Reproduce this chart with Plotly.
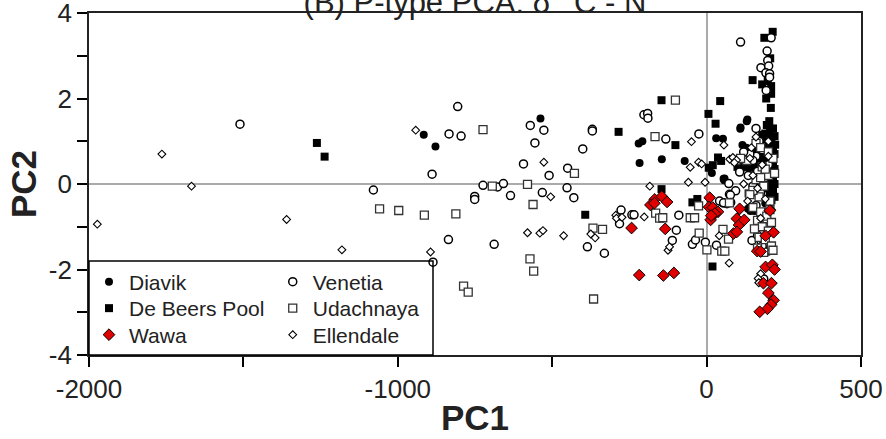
import plotly.graph_objects as go

# ---------------- data ----------------
diavik_x = [-916, -878, -538, -220, -208, -217, -145, -71, 31, 53, 130, 109, 129, 116, 17, 55, 58, 72,
            134, 155, 142, 132, 110, 57, 180, 195, 200, 170, 210, 190, 160, 175]
diavik_y = [1.15, 0.88, 1.53, 0.95, 1.00, 0.49, 0.58, 0.54, 1.07, 1.06, 1.47, 1.29, 0.85, 0.91, 0.26, 0.12, 0.13, 0.02,
            -0.58, -0.63, -0.63, 1.51, 1.32, 0.09, 0.60, 0.30, -0.10, 0.75, 0.95, -0.45, -0.20, 0.05]

debeers_x = [-1262, -1237, -285, -393, -146, -101, -146, -30, -46, 19, 6, 29, 44, 37, 47, 7, 20, 136,
             214, 187, 206, 149, 180, 198, 209, 209, 193, 208, 203,
             215, 205, 190, 180, 220, 210, 195, 185, 170, 215, 200, 160, 220, 205, 190, 175, 215, 200,
             150, 220, 210, 185, 165, 215, 200, 180, 220, 210, 195, 215, 205, 220, 210,
             110, 125, 140, 155, 170, 100, 195, 222, 212, 198, 188]
debeers_y = [0.96, 0.64, 1.22, -0.72, 1.96, 0.91, -0.12, -0.35, -0.43, -1.93, 1.64, 1.41, 1.94, 0.62, 0.54, 0.38, 0.44, -0.22,
             3.56, 3.42, 2.94, 2.43, 2.33, 2.41, 2.29, 2.11, 2.00, 1.78, 1.47,
             1.30, 1.22, 1.18, 1.15, 1.12, 1.05, 1.00, 0.95, 0.90, 0.85, 0.80, 0.78, 0.70, 0.65, 0.60, 0.55, 0.50, 0.45,
             0.40, 0.35, 0.30, 0.25, 0.20, 0.15, 0.10, 0.05, 0.00, -0.05, -0.10, -0.15, -0.25, -0.30, -0.38,
             0.38, 0.40, 0.38, 0.40, 0.38, 0.40, 1.38, 0.92, 0.20, -0.02, 0.72]

wawa_x = [-168, -182, -169, -145, -128, -243, -218, -134, -140, -106, 10, 13, 8, 20, 37, 27, 15,
          107, 98, 105, 122, 87, 98, 191, 217, 164, 175, 191, 213, 220, 184, 210, 200, 217, 209, 197, 172, 205]
wawa_y = [-0.36, -0.49, -0.45, -0.29, -0.42, -1.03, -2.13, -1.05, -2.14, -2.08, -0.32, -0.84, -0.54, -0.55, -0.65, -0.69, -0.74,
          -0.58, -0.81, -0.96, -0.84, -1.16, -1.12, -1.21, -1.13, -1.57, -1.58, -1.94, -1.89, -2.00, -2.32, -2.32, -2.55, -2.72, -2.82, -2.92, -2.99, -0.62]

venetia_x = [-1511, -1079, -806, -834, -795, -889, -724, -677, -658, -751, -751, -635, -593, -510, -571, -527, -556,
             -532, -450, -452, -430, -370, -370, -401, -203, -191, -190, -836, -688, -886, -386, -331, -277, -282,
             -242, -235, -98, -90, -111, -46, -36, -4, 32, 147, 175, 177, 199, -132, -25, 160, 110, 209, 196, 198,
             176, 201, 192, 204, 193, 204, 72, 107, 74, 94, 77, 78, 66, 53, 42, 55, 185,
             170, 180, 160, 150, 140, 165, 190, 175, 160, 185, 170, 195, 165, 180, 205, 120, 135, 150, 200]
venetia_y = [1.40, -0.14, 1.81, 1.17, 1.12, 0.23, -0.03, -0.07, 0.01, -0.29, -0.36, -0.27, 0.47, 0.20, 1.37, 1.26, 0.96,
             -0.20, 0.37, -0.09, -0.32, 1.28, 1.24, 0.82, 1.62, 1.65, 1.54, -1.30, -1.41, -1.83, -1.47, -1.62, -0.61, -0.93,
             -0.72, -0.72, -1.08, -0.73, -1.32, -1.41, -1.31, -1.36, -1.43, -1.32, -1.14, -1.35, -1.57, 1.05, 1.17, 1.30, 3.32, 3.42, 3.11, 2.89,
             2.72, 2.76, 2.60, 2.58, 2.19, 2.50, 0.01, 0.28, -0.24, -0.16, -0.26, -0.43, -0.46, -0.44, -0.40, -0.44, -2.22,
             1.00, 0.80, 0.65, 0.55, 0.70, 0.30, 0.15, -0.20, -0.50, -0.70, -0.90, -1.00, -1.20, -1.45, -1.55, 0.75, 0.20, -0.05, 0.45]

udach_x = [-1059, -997, -724, -694, -580, -562, -428, -914, -812, -787, -772, -572, -560, -368, -337, -366, -167, -101,
           -165, -152, -142, -53, -39, -24, 1, 53, 71, 49, 59, -26, 74,
           160, 175, 200, 215, 180, 200, 160, 185, 170, 205, 150, 175, 195, 165, 210, 180, 155, 200, 170, 190, 210, 165,
           185, 215, 150, 140, 130, 95, 110, 220, 205, 190, 175]
udach_y = [-0.58, -0.62, 1.27, -0.05, -0.01, -0.48, 0.25, -0.73, -0.70, -2.39, -2.53, -1.75, -2.04, -1.03, -1.06, -2.69, 1.11, 1.96,
           -0.68, -0.80, -0.79, -0.79, -0.79, -1.15, -1.54, -1.06, -1.29, -1.57, -1.57, -0.51, -0.44,
           0.95, 0.85, 0.75, 0.60, 0.40, 0.20, 0.10, -0.05, -0.30, -0.40, -0.55, -0.65, -0.75, -0.85, -0.90, -1.00, -1.05, -1.10, -1.25, -1.30, -1.45, -1.50,
           -1.60, -1.55, -0.15, -0.25, 0.55, 0.55, 0.60, 0.25, -0.60, 0.35, 0.15]

ellen_x = [-1973, -1764, -1668, -1360, -1181, -942, -894, -527, -505, -580, -540, -530, -463, -375, -361, -294, -292, -274,
           -202, -184, -125, -120, 41, 73, -59, -5, -49, -53, -26, -16, 56, 133, 175, 167, 169,
           75, 85, 97, 90, 140, 150, 120, 165, 180, 200, 190, 210, 175, 145, 160, 200]
ellen_y = [-0.94, 0.70, -0.05, -0.83, -1.54, 1.26, -1.59, 0.51, -0.30, -1.14, -1.15, -1.09, -1.21, -1.17, -1.26, -0.73, -0.80, -0.78,
           -0.77, -0.05, -1.55, -1.47, -1.21, -1.85, 0.04, 0.04, 0.99, 0.39, 0.51, 0.47, 0.91, -0.40, -2.10, -2.21, -2.31,
           0.58, 0.62, 0.56, 0.50, 0.60, 0.20, 0.00, -0.10, 0.45, 0.65, -0.35, -0.60, -0.80, 0.85, 1.10, 1.00]

x_tickvals = [-2000, -1500, -1000, -500, 0, 500]
x_ticktext = ["-2000", "", "-1000", "", "0", "500"]
y_tickvals = [-4, -3, -2, -1, 0, 1, 2, 3, 4]
y_ticktext = ["-4", "", "-2", "", "0", "", "2", "", "4"]

FONT = "Liberation Sans, Arial, sans-serif"

fig = go.Figure()

def add(name, xs, ys, symbol, fill, line_color, line_w, size, legend):
    fig.add_trace(go.Scatter(
        x=xs, y=ys, mode="markers", name=name,
        marker=dict(symbol=symbol, color=fill, size=size,
                    line=dict(color=line_color, width=line_w)),
        legend=legend, cliponaxis=True,
    ))

add("De Beers Pool", debeers_x, debeers_y, "square", "black", "black", 0, 8, "legend2")
add("Diavik", diavik_x, diavik_y, "circle", "black", "black", 0, 8, "legend")
add("Venetia", venetia_x, venetia_y, "circle", "white", "black", 1.5, 8, "legend4")
add("Udachnaya", udach_x, udach_y, "square", "white", "#333333", 1.3, 8, "legend5")
add("Ellendale", ellen_x, ellen_y, "diamond", "white", "black", 1.1, 6, "legend6")
add("Wawa", wawa_x, wawa_y, "diamond", "#e00000", "black", 1, 9, "legend3")

PLOT_TOP, PLOT_BOT = 13, 355
def py(p):  # pixel row -> paper y
    return (PLOT_BOT - p) / (PLOT_BOT - PLOT_TOP)

def leg(xp, row_px):
    return dict(x=xp, y=py(row_px), xanchor="left", yanchor="middle",
                bgcolor="rgba(0,0,0,0)", borderwidth=0,
                font=dict(size=21, family=FONT, color="#222"),
                tracegroupgap=0, itemsizing="trace")

rows = [282, 308.5, 335]
fig.update_layout(
    width=886, height=439,
    margin=dict(l=89, r=25, t=13, b=84, autoexpand=False),
    paper_bgcolor="white", plot_bgcolor="white",
    font=dict(family=FONT, color="black"),
    title=dict(text="(B) P-type PCA: δ<sup>13</sup>C - N", x=0.5, xref="paper", xanchor="center",
               y=0.971, yanchor="bottom", yref="container", automargin=False,
               font=dict(size=31, family=FONT, color="#222")),
    showlegend=True,
    legend=leg(0.0, rows[0]),
    legend2=leg(0.0, rows[1]),
    legend3=leg(0.0, rows[2]),
    legend4=leg(0.238, rows[0]),
    legend5=leg(0.238, rows[1]),
    legend6=leg(0.238, rows[2]),
    shapes=[dict(type="rect", xref="paper", yref="paper",
                 x0=0, x1=(433 - 89) / 772, y0=0, y1=py(261),
                 line=dict(color="black", width=1.5), fillcolor="rgba(0,0,0,0)", layer="above")],
)

fig.update_xaxes(
    range=[-2000, 500], tickvals=x_tickvals, ticktext=x_ticktext, automargin=False,
    ticks="outside", ticklen=10, tickwidth=1.5, tickcolor="black", ticklabeloverflow="allow",
    showline=True, linecolor="#222", linewidth=1.8, mirror=True,
    showgrid=False, zeroline=True, zerolinecolor="#aaaaaa", zerolinewidth=1.5,
    tickfont=dict(size=26, family=FONT, color="#222"),
    title=dict(text="<b>PC1</b>", font=dict(size=35, family=FONT, color="#222"), standoff=2),
)
fig.update_yaxes(
    range=[-4, 4], tickvals=y_tickvals, ticktext=y_ticktext, automargin=False,
    ticks="outside", ticklen=10, tickwidth=1.5, tickcolor="black", ticklabeloverflow="allow",
    showline=True, linecolor="#222", linewidth=1.8, mirror=True,
    showgrid=False, zeroline=True, zerolinecolor="#aaaaaa", zerolinewidth=1.5,
    tickfont=dict(size=26, family=FONT, color="#222"),
    title=dict(text="<b>PC2</b>", font=dict(size=35, family=FONT, color="#222"), standoff=2),
)

fig.write_html("out.html")
